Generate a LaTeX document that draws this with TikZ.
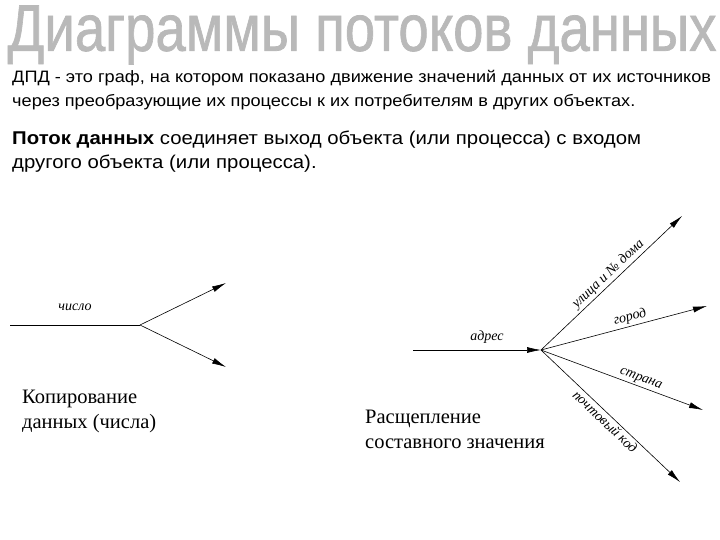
\documentclass[tikz,border=0pt]{standalone}
\usepackage{fontspec}
\setmainfont{Liberation Sans}
\newfontfamily\serif{Liberation Serif}
\usetikzlibrary{arrows.meta}
\begin{document}
\begin{tikzpicture}[x=1pt,y=-1pt,
  flow/.style={line width=0.6pt,-{Latex[length=14pt,width=6pt]}},
  lbl/.style={font=\serif\itshape\fontsize{14}{14}\selectfont,inner sep=2pt},
  captxt/.style={font=\serif\fontsize{20.5}{25}\selectfont,align=left,anchor=north west,inner sep=0pt},
  body/.style={anchor=north west,inner sep=0pt,align=left}]
\useasboundingbox (0,0) rectangle (720,540);
\node[inner sep=0pt,xscale=1.24,yscale=1.5,text=gray!55] (title) at (362,35)
 {\fontsize{44}{44}\selectfont\special{pdf:literal direct 2 Tr 0.5 w}Диаграммы потоков данных\special{pdf:literal direct 0 Tr}};
\node[body,xscale=1.1,font=\fontsize{16.5}{24}\selectfont] (p1) at (12,70)
 {ДПД - это граф, на котором показано движение значений данных от их источников\\через преобразующие их процессы к их потребителям в других объектах.};
\node[body,xscale=1.1,font=\fontsize{18.5}{24}\selectfont] (p2) at (12,131)
 {\textbf{Поток данных} соединяет выход объекта (или процесса) с входом\\другого объекта (или процесса).};
% left
\coordinate (ls) at (10,325);
\coordinate (lc) at (140,325);
\coordinate (l1) at (226,283);
\coordinate (l2) at (226,367);
\draw[line width=0.6pt] (ls) -- (lc) node[lbl,midway,above=12pt] {число};
\draw[flow] (lc) -- (l1);
\draw[flow] (lc) -- (l2);
\node[captxt] (c1) at (22,390) {Копирование\\данных (числа)};
% right
\coordinate (rs) at (413,350);
\coordinate (rc) at (541,350);
\coordinate (r1) at (682,216);
\coordinate (r2) at (707,306);
\coordinate (r3) at (703,410);
\coordinate (r4) at (680,482);
\draw[flow] (rs) -- (rc) node[lbl,midway,above=4pt,xshift=10pt] {адрес};
\draw[flow] (rc) -- (r1) node[lbl,pos=0.52,sloped,above] {улица и № дома};
\draw[flow] (rc) -- (r2) node[lbl,pos=0.55,sloped,above] {город};
\draw[flow] (rc) -- (r3) node[lbl,pos=0.6,sloped,above] {страна};
\draw[flow] (rc) -- (r4) node[lbl,pos=0.5,sloped,below] {почтовый код};
\node[captxt] (c2) at (365,410) {Расщепление\\составного значения};
\end{tikzpicture}
\end{document}
